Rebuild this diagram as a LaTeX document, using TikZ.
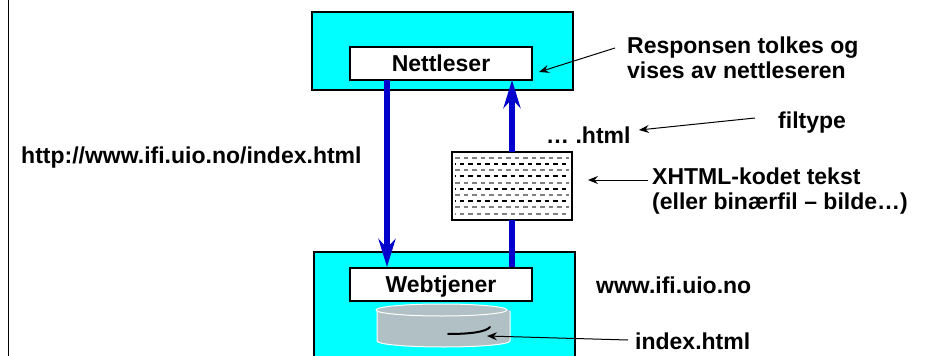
\documentclass[tikz,border=0pt]{standalone}
\usepackage{fontspec}
\setmainfont{Liberation Sans}
\usetikzlibrary{arrows.meta}

\definecolor{boxcyan}{RGB}{0,255,255}
\definecolor{flowblue}{RGB}{0,0,205}
\definecolor{diskgray}{RGB}{176,192,196}

\tikzset{
  host/.style={draw=black,line width=2pt,fill=boxcyan,minimum width=261pt,inner sep=0pt},
  prog/.style={draw=black,line width=2pt,fill=white,minimum width=182pt,minimum height=33pt,inner sep=0pt},
  label/.style={font=\fontsize{23}{25}\selectfont\bfseries,inner sep=0pt,align=left},
  flow/.style={draw=flowblue,line width=6pt,-{Stealth[length=28pt,width=17pt,inset=9pt,flowblue]}},
  flowline/.style={draw=flowblue,line width=6pt},
  note/.style={draw=black,line width=1pt,-{Stealth[length=10pt,width=8pt,inset=3.5pt,black]}}
}

\begin{document}
\begin{tikzpicture}[x=1pt,y=-1pt]

    \useasboundingbox (0,0) rectangle (930,356);
    \clip (0,0) rectangle (930,356);

    \draw[line width=1pt] (8.5,0) -- (8.5,356);


    \node[host,minimum height=78pt] (browserhost) at (442.5,51) {};

    \node[host,minimum height=130pt] (serverhost) at (444.5,317) {};


    \node[prog] (browser) at (441,63.5) {};

    \node[prog] (server) at (441,284) {};

    \node[label,anchor=base] (browsertext) at (441,71) {Nettleser};

    \node[label,anchor=base] (servertext) at (441,292) {Webtjener};


    % disk
    \fill[diskgray] (377,310) -- (377,341) arc[start angle=180,end angle=360,x radius=66.5pt,y radius=6pt] -- (510,310) -- cycle;
    \draw[white,line width=1pt] (377,310) -- (377,341) arc[start angle=180,end angle=360,x radius=66.5pt,y radius=6pt] -- (510,311);
    \draw[white,line width=1pt,fill=diskgray] (441.5,310) ellipse[x radius=65.5pt,y radius=6pt];
    \draw[line width=2pt,line cap=round] (448,334) .. controls (470,334) and (486,332) .. (490,327);


    % document
    \node[draw=black,line width=2pt,fill=white,minimum width=120pt,minimum height=68pt,inner sep=0pt] (doc) at (512,186) {};

    \foreach \y/\shift/\col in {158/0/gray,164/4/black,170/0/gray,176/4/black,183/0/gray,189/4/black,195/0/gray,201/4/black,207/0/gray,214/4/gray} {
      \draw[\col,line width=1.3pt,dash pattern=on 4.5pt off 4pt,dash phase=\shift pt] ([xshift=4pt]doc.west |- 0,\y) -- ([xshift=-4pt]doc.east |- 0,\y);
    }


    % flows
    \coordinate (downstart) at (387,80);
    \coordinate (downend) at (387,267);
    \coordinate (upstart) at (512,152);
    \coordinate (upend) at (512,80);
    \coordinate (linkstart) at (512,267);
    \coordinate (linkend) at (512,220);

    \draw[flow] (downstart) -- (downend);

    \draw[flow] (upstart) -- (upend);

    \draw[flowline] (linkstart) -- (linkend);


    % labels
    \node[label,anchor=west] (url) at (21,158) {http://www.ifi.uio.no/index.html};

    \node[label,anchor=west] (response) at (627,58) {Responsen tolkes og\\vises av nettleseren};

    \node[label,anchor=west] (ext) at (546,135) {… .html};

    \node[label,anchor=west] (type) at (778,123) {filtype};

    \node[label,anchor=west] (markup) at (652,191) {XHTML-kodet tekst\\(eller binærfil – bilde…)};

    \node[label,anchor=west] (domain) at (596,285) {www.ifi.uio.no};

    \node[label,anchor=west] (page) at (635,341) {index.html};


    % notes
    \coordinate (responsetail) at (615,48);
    \coordinate (responsehead) at (539,72);
    \coordinate (typetail) at (755,118);
    \coordinate (typehead) at (639,130);
    \coordinate (markuptail) at (648,180);
    \coordinate (markuphead) at (588,180);
    \coordinate (pagetail) at (628,340);
    \coordinate (pagehead) at (487,336);

    \draw[note] (responsetail) -- (responsehead);

    \draw[note] (typetail) -- (typehead);

    \draw[note] (markuptail) -- (markuphead);

    \draw[note] (pagetail) -- (pagehead);

\end{tikzpicture}
\end{document}
